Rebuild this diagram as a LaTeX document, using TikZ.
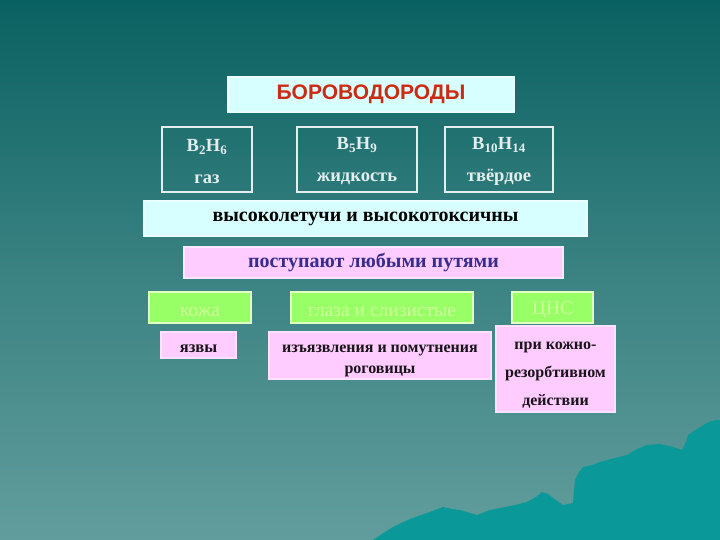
\documentclass[tikz,border=0pt]{standalone}
\usepackage{fontspec}
\setmainfont{Liberation Serif}
\newfontfamily\headfont{Liberation Sans}
\definecolor{bgtop}{HTML}{0A6161}
\definecolor{bgmid}{HTML}{3A8282}
\definecolor{bgbot}{HTML}{629D9D}
\definecolor{hill}{HTML}{0B9898}
\definecolor{paleC}{HTML}{D8FFFF}
\definecolor{paleP}{HTML}{FFCCFF}
\definecolor{paleG}{HTML}{99FF66}
\definecolor{txtG}{HTML}{CCFF99}
\definecolor{txtB}{HTML}{382C8C}
\definecolor{titleR}{HTML}{CC2A12}
\definecolor{lightT}{HTML}{E4EEEE}
\newcommand\kup[1]{\rule{0pt}{#1}}
\tikzset{
  kbox/.style={draw=#1,line width=1.5pt,inner sep=0pt,align=center},
  kform/.style={kbox=lightT,text=lightT,font=\fontsize{18.5}{32}\selectfont\bfseries},
  kpink/.style={kbox=paleP!60!white,fill=paleP,text=black!90!paleP,font=\fontsize{16}{28}\selectfont\bfseries},
  kgreen/.style={kbox=txtG!60!white,fill=paleG,text=txtG,font=\fontsize{19.5}{22}\selectfont}
}
\begin{document}
\begin{tikzpicture}[x=1pt,y=-1pt]
% background
\shade[top color=bgtop,bottom color=bgbot,middle color=bgmid](0,0)rectangle(720,540);
\useasboundingbox(0,0)rectangle(720,540);
\fill[hill](373,540)--(385,532)--(393,527)--(410,519)--(427,513)--(443,507)--(452,509)--(460,510)
  --(477,515)--(490,510)--(500,508)--(515,505)--(527,502)--(536,497)--(542,492)--(548,494)--(553,498)
  --(563,505)--(573,503)--(574,490)--(575,480)--(579,472)--(583,467)--(592,465)--(600,462)--(615,458)
  --(627,455)--(637,449)--(647,445)--(660,444)--(673,447)--(682,450)--(686,442)--(688,435)--(697,429)
  --(707,423)--(715,420)--(720,420)--(720,540)--cycle;
% title
\draw(371,94.5)node[kbox=paleC!50!white,fill=paleC,minimum width=286,minimum height=35,
  text=titleR,font=\headfont\fontsize{21}{23}\selectfont\bfseries](title){БОРОВОДОРОДЫ};
% boranes
\draw(207,159.5)node[kform,minimum width=90,minimum height=65](b2h6){\kup{16pt}B\textsubscript{2}H\textsubscript{6}\\газ};
\draw(357,159.5)node[kform,minimum width=120,minimum height=65](b5h9){\kup{16pt}B\textsubscript{5}H\textsubscript{9}\\жидкость};
\draw(499,159.5)node[kform,minimum width=108,minimum height=65](b10h14){\kup{16pt}B\textsubscript{10}H\textsubscript{14}\\твёрдое};
% properties
\draw(365.5,218.5)node[kbox=paleC!50!white,fill=paleC,minimum width=443,minimum height=35,
  text=black,font=\fontsize{20}{22}\selectfont\bfseries](tox){высоколетучи и высокотоксичны};
\draw(373.5,262.5)node[kbox=paleP!50!white,fill=paleP,minimum width=379,minimum height=31,
  text=txtB,font=\fontsize{20}{22}\selectfont\bfseries](ways){поступают любыми путями};
% routes
\draw(200,307.5)node[kgreen,minimum width=102,minimum height=31](skin){\kup{19pt}кожа};
\draw(382,307.5)node[kgreen,minimum width=182,minimum height=31](eyes){\kup{19pt}глаза и слизистые};
\draw(552.5,307.5)node[kgreen,minimum width=81,minimum height=31](cns){\kup{19pt}ЦНС};
% effects
\draw(198.5,345)node[kpink,font=\fontsize{16.5}{20}\selectfont\bfseries,minimum width=75,minimum height=26](ulcer){\kup{16pt}язвы};
\draw(380,355.5)node[kpink,font=\fontsize{16}{21}\selectfont\bfseries,minimum width=222,minimum height=47](cornea){\kup{19pt}изъязвления и помутнения\\роговицы};
\draw(555.5,369)node[kpink,minimum width=119,minimum height=86](resorb){\kup{20pt}при кожно-\\резорбтивном\\действии};
\end{tikzpicture}
\end{document}
